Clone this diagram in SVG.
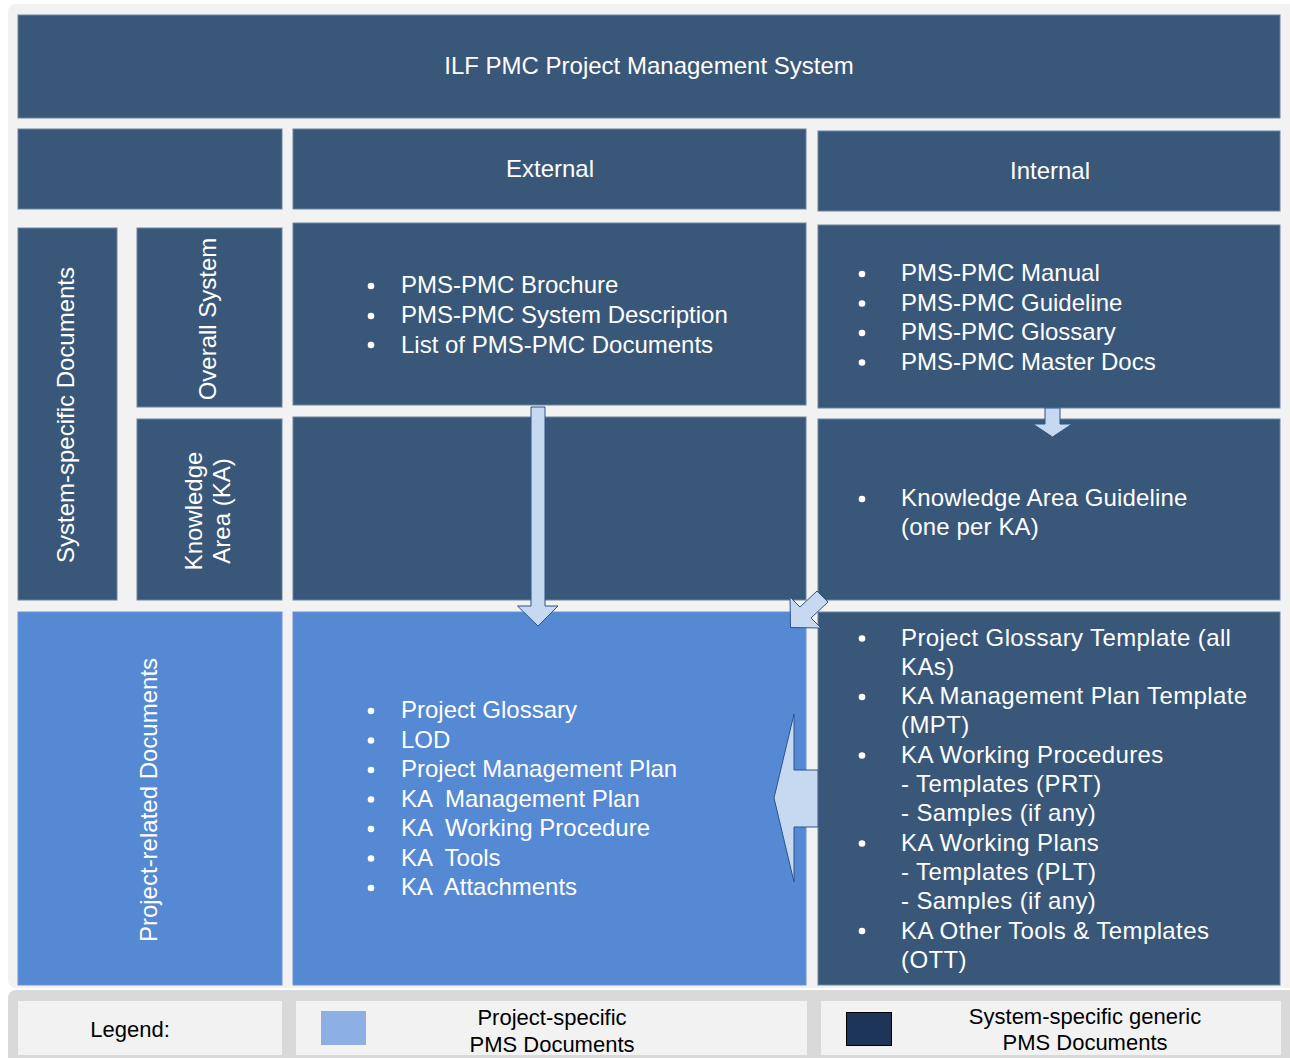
<svg xmlns="http://www.w3.org/2000/svg" width="1290" height="1058" viewBox="0 0 1290 1058">
  <style>
    .dark { fill: #395879; stroke: #6a83a1; stroke-width: 1; }
    .blue { fill: #5589d4; stroke: #6a93d6; stroke-width: 1; }
    .cell { fill: #f2f2f2; }
    .t { font-family: "Liberation Sans", Arial, sans-serif; font-size: 24px; fill: #ffffff; }
    .c { text-anchor: middle; }
    .wide { letter-spacing: 0.4px; }
    .wide2 { letter-spacing: 0.15px; }
    .lg { font-family: "Liberation Sans", Arial, sans-serif; font-size: 22px; fill: #000000; text-anchor: middle; }
    .pre { white-space: pre; }
    .arrow { fill: #c6d9f1; stroke: #2f5389; stroke-width: 1; stroke-linejoin: miter; }
    .dot { fill: #ffffff; }
  </style>
  <defs>
    <circle id="bullet" r="3.3"/>
  </defs>

  <!-- page background and legend band -->
  <rect x="0" y="0" width="1290" height="1058" fill="#ffffff"/>
  <rect x="8" y="4" width="1290" height="984" rx="8" fill="#f2f2f2"/>
  <rect x="8" y="990" width="1290" height="80" rx="8" fill="#d9d9d9"/>

  <!-- header -->
  <g id="title">
    <rect class="dark" x="18" y="15" width="1262" height="103"/>
    <text class="t c" x="649" y="74">ILF PMC Project Management System</text>
  </g>

  <!-- column headers -->
  <g id="corner">
    <rect class="dark" x="18" y="129" width="264" height="80"/>
  </g>
  <g id="external-head">
    <rect class="dark" x="293" y="129" width="513" height="80"/>
    <text class="t c" x="550" y="177">External</text>
  </g>
  <g id="internal-head">
    <rect class="dark" x="818" y="131" width="462" height="80"/>
    <text class="t c" x="1050" y="179">Internal</text>
  </g>

  <!-- row labels -->
  <g id="system-docs">
    <rect class="dark" x="18" y="228" width="99" height="372"/>
    <text class="t c" transform="translate(74,415) rotate(-90)">System-specific Documents</text>
  </g>
  <g id="overall-system">
    <rect class="dark" x="137" y="228" width="145" height="179"/>
    <text class="t c" transform="translate(216,319) rotate(-90)">Overall System</text>
  </g>
  <g id="knowledge-area">
    <rect class="dark" x="137" y="419" width="145" height="181"/>
    <text class="t c" transform="translate(202,511) rotate(-90)">Knowledge</text>
    <text class="t c" transform="translate(230,511) rotate(-90)">Area (KA)</text>
  </g>
  <g id="project-docs">
    <rect class="blue" x="18" y="612" width="264" height="373"/>
    <text class="t c" transform="translate(157,800) rotate(-90)">Project-related Documents</text>
  </g>

  <!-- external column -->
  <g id="ext-overall">
    <rect class="dark" x="293" y="223" width="513" height="182"/>
    <use href="#bullet" class="dot" x="371" y="286"/>
    <use href="#bullet" class="dot" x="371" y="316"/>
    <use href="#bullet" class="dot" x="371" y="345"/>
    <text class="t" x="401" y="293">PMS-PMC Brochure</text>
    <text class="t" x="401" y="323">PMS-PMC System Description</text>
    <text class="t" x="401" y="352.5">List of PMS-PMC Documents</text>
  </g>
  <g id="ext-ka">
    <rect class="dark" x="293" y="417" width="513" height="183"/>
  </g>
  <g id="ext-project">
    <rect class="blue" x="293" y="612" width="513" height="373"/>
    <use href="#bullet" class="dot" x="371" y="711"/>
    <use href="#bullet" class="dot" x="371" y="740.5"/>
    <use href="#bullet" class="dot" x="371" y="770"/>
    <use href="#bullet" class="dot" x="371" y="799.5"/>
    <use href="#bullet" class="dot" x="371" y="829"/>
    <use href="#bullet" class="dot" x="371" y="858.5"/>
    <use href="#bullet" class="dot" x="371" y="888"/>
    <text class="t pre" x="401" y="718">Project Glossary</text>
    <text class="t pre" x="401" y="747.5">LOD</text>
    <text class="t pre" x="401" y="777">Project Management Plan</text>
    <text class="t pre" x="401" y="806.5">KA  Management Plan</text>
    <text class="t pre" x="401" y="836">KA  Working Procedure</text>
    <text class="t pre" x="401" y="865.5">KA  Tools</text>
    <text class="t pre" x="401" y="895">KA  Attachments</text>
  </g>

  <!-- internal column -->
  <g id="int-overall">
    <rect class="dark" x="818" y="225" width="462" height="183"/>
    <use href="#bullet" class="dot" x="862" y="274"/>
    <use href="#bullet" class="dot" x="862" y="303.5"/>
    <use href="#bullet" class="dot" x="862" y="333"/>
    <use href="#bullet" class="dot" x="862" y="362.5"/>
    <text class="t" x="901" y="281">PMS-PMC Manual</text>
    <text class="t" x="901" y="310.5">PMS-PMC Guideline</text>
    <text class="t" x="901" y="340">PMS-PMC Glossary</text>
    <text class="t" x="901" y="369.5">PMS-PMC Master Docs</text>
  </g>
  <g id="int-ka">
    <rect class="dark" x="818" y="419" width="462" height="181"/>
    <use href="#bullet" class="dot" x="862" y="499"/>
    <text class="t wide2" x="901" y="506">Knowledge Area Guideline</text>
    <text class="t wide2" x="901" y="535">(one per KA)</text>
  </g>
  <g id="int-project">
    <rect class="dark" x="818" y="612" width="462" height="373"/>
    <use href="#bullet" class="dot" x="862" y="638.5"/>
    <use href="#bullet" class="dot" x="862" y="697"/>
    <use href="#bullet" class="dot" x="862" y="755.5"/>
    <use href="#bullet" class="dot" x="862" y="843.5"/>
    <use href="#bullet" class="dot" x="862" y="931"/>
    <text class="t wide" x="901" y="645.5">Project Glossary Template (all</text>
    <text class="t wide" x="901" y="674.8">KAs)</text>
    <text class="t wide" x="901" y="704.1">KA Management Plan Template</text>
    <text class="t wide" x="901" y="733.4">(MPT)</text>
    <text class="t wide" x="901" y="762.7">KA Working Procedures</text>
    <text class="t wide" x="901" y="792">- Templates (PRT)</text>
    <text class="t wide" x="901" y="821.3">- Samples (if any)</text>
    <text class="t wide" x="901" y="850.6">KA Working Plans</text>
    <text class="t wide" x="901" y="879.9">- Templates (PLT)</text>
    <text class="t wide" x="901" y="909.2">- Samples (if any)</text>
    <text class="t wide" x="901" y="938.5">KA Other Tools &amp; Templates</text>
    <text class="t wide" x="901" y="967.8">(OTT)</text>
  </g>

  <!-- block arrows between the cells -->
  <g id="connectors">
    <polygon class="arrow" points="531,407 545,407 545,606 558,606 538,626 517.5,606 531,606"/>
    <polygon class="arrow" points="1045,408 1060,408 1060,424 1072,424 1052.5,437 1033,424 1045,424"/>
    <polygon class="arrow" points="790.5,627.5 821,628 811,618 828,602 817,591 800,607 790,597"/>
    <polygon class="arrow" points="774,798 794,714 794,770 818,770 818,827 794,827 794,882"/>
  </g>

  <!-- legend -->
  <g id="legend">
    <rect class="cell" x="18" y="1001" width="264" height="54"/>
    <rect class="cell" x="296" y="1001" width="511" height="54"/>
    <rect class="cell" x="821" y="1001" width="460" height="54"/>
    <text class="lg" x="130" y="1037">Legend:</text>
    <rect x="321" y="1011" width="45" height="34" fill="#8db0e4"/>
    <text class="lg" x="552" y="1025">Project-specific</text>
    <text class="lg" x="552" y="1052">PMS Documents</text>
    <rect x="846.5" y="1012.5" width="45" height="33" fill="#1c3559" stroke="#000000" stroke-width="1"/>
    <text class="lg" x="1085" y="1024">System-specific generic</text>
    <text class="lg" x="1085" y="1050">PMS Documents</text>
  </g>
</svg>
